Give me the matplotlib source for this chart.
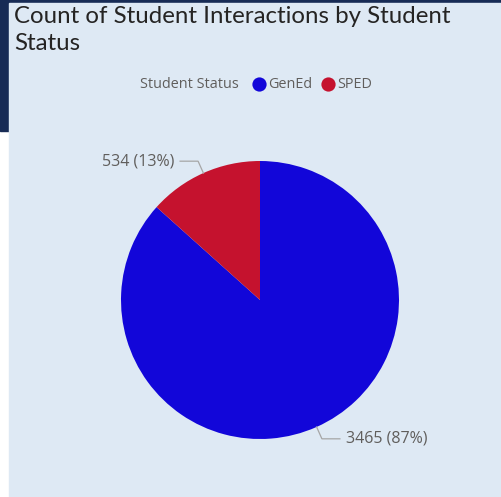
import matplotlib.pyplot as plt
from matplotlib.patches import Rectangle
import numpy as np

statuses = ['GenEd', 'SPED']
counts = [3465, 534]
colors = ['#1206d9', '#c5122e']

navy = '#172b55'
panel_bg = '#dee9f4'
grey_text = '#605e5c'

W, H = 502, 497
fig = plt.figure(figsize=(W / 100, H / 100), dpi=100, facecolor='white')
ax = fig.add_axes([0, 0, 1, 1])

def py(y):
    # pixel row from the top -> data y
    return H - y

# frame: navy edges and the light card
ax.add_patch(Rectangle((0, py(131)), 10, 131, color=navy, zorder=0))
ax.add_patch(Rectangle((0, py(3)), W, 3, color=navy, zorder=0))
ax.add_patch(Rectangle((9, 0), W - 9, py(3), color=panel_bg, zorder=0))

# title
ax.text(14, py(6), 'Count of Student Interactions by Student\nStatus',
        fontsize=17.3, color='#252423', family='Lato', va='top',
        linespacing=1.38)

# legend
ly = py(84)
ax.text(140, ly, 'Student Status', fontsize=10.4, color=grey_text,
        family='Open Sans', va='center')
lx = [259, 328]
for x, name, c in zip(lx, statuses, colors):
    ax.scatter([x], [ly], s=105, color=c, zorder=3, linewidths=0)
    ax.text(x + 9, ly, name, fontsize=10.4, color=grey_text,
            family='Open Sans', va='center')

# pie
cx, cy, r = 260, py(300), 139
wedges, _ = ax.pie(counts, colors=colors, startangle=90, counterclock=False,
                   center=(cx, cy), radius=r, frame=True,
                   wedgeprops=dict(linewidth=0))
ax.set_xlim(0, W)
ax.set_ylim(0, H)
ax.axis('off')

total = sum(counts)
for w, n in zip(wedges, counts):
    mid = np.deg2rad((w.theta1 + w.theta2) / 2)
    x0, y0 = cx + r * np.cos(mid), cy + r * np.sin(mid)
    x1, y1 = cx + (r + 13) * np.cos(mid), cy + (r + 13) * np.sin(mid)
    side = 1 if np.cos(mid) >= 0 else -1
    x2 = x1 + side * 18
    ax.plot([x0, x1, x2], [y0, y1, y1], color='#a6a6a6', lw=0.9, zorder=3)
    label = f'{n} ({n / total:.0%})'
    ax.text(x2 + side * 6, y1, label, fontsize=11.5, color=grey_text,
            family='Open Sans', va='center', ha='left' if side > 0 else 'right')

fig.savefig('out.png', dpi=100, facecolor='white')
